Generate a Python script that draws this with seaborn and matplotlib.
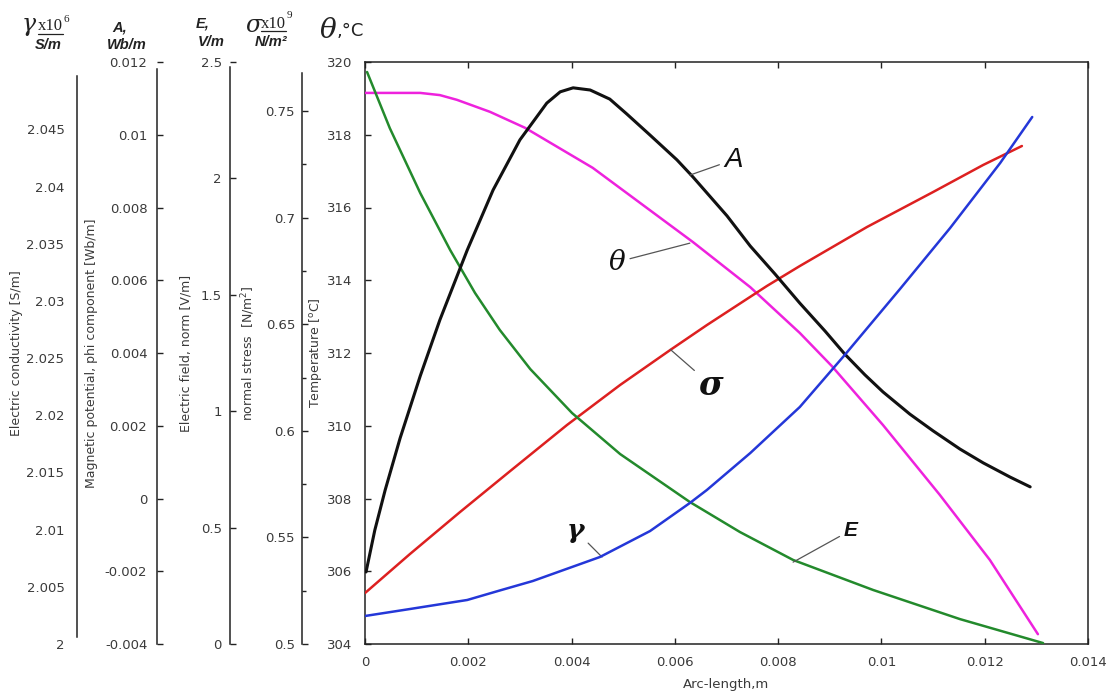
import matplotlib
matplotlib.use("Agg")
import matplotlib.pyplot as plt
import seaborn as sns
from matplotlib.lines import Line2D
from matplotlib.ticker import FixedLocator, FixedFormatter

# ---------------- data ----------------
# temperature theta [degC] vs arc length [m]
theta_x = [0.0, 0.00048, 0.00107, 0.00145, 0.00178, 0.00242, 0.00310, 0.00441,
           0.00538, 0.00635, 0.00746, 0.00842, 0.00904, 0.01003, 0.01113, 0.01210, 0.01303]
theta_T = [319.15, 319.15, 319.15, 319.09, 318.96, 318.63, 318.19, 317.09,
           316.07, 315.05, 313.81, 312.55, 311.64, 310.02, 308.10, 306.31, 304.27]

# magnetic potential A [Wb/m]
A_x = [0.00002, 0.00019, 0.00039, 0.00068, 0.00107, 0.00145, 0.00198, 0.00248,
       0.00300, 0.00352, 0.00378, 0.00403, 0.00436, 0.00474, 0.00507, 0.00552,
       0.00604, 0.00635, 0.00701, 0.00746, 0.00794, 0.00842, 0.00891, 0.00929,
       0.00968, 0.01003, 0.01055, 0.01100, 0.01152, 0.01197, 0.01249, 0.01288]
A_v = [-0.00202, -0.00087, 0.00023, 0.00166, 0.00337, 0.00491, 0.00683, 0.00848,
       0.00986, 0.01087, 0.01118, 0.01129, 0.01123, 0.01098, 0.01057, 0.00999,
       0.00931, 0.00884, 0.00777, 0.00694, 0.00617, 0.00537, 0.00460, 0.00397,
       0.00340, 0.00293, 0.00232, 0.00186, 0.00136, 0.00098, 0.00059, 0.00032]

# electric field E [V/m]
E_x = [0.00004, 0.00048, 0.00107, 0.00165, 0.00213, 0.00261, 0.00320, 0.00401,
       0.00494, 0.00629, 0.00726, 0.00829, 0.00984, 0.01152, 0.01313]
E_v = [2.457, 2.216, 1.937, 1.692, 1.508, 1.349, 1.181, 0.992,
       0.816, 0.610, 0.481, 0.361, 0.232, 0.107, 0.004]

# normal stress sigma [x1e9 N/m^2]
s_x = [0.0, 0.00087, 0.00184, 0.00281, 0.00391, 0.00494, 0.00591, 0.00662,
       0.00778, 0.00842, 0.00972, 0.01100, 0.01197, 0.01272]
s_v = [0.5239, 0.5422, 0.5619, 0.5811, 0.6027, 0.6215, 0.6379, 0.6496,
       0.6679, 0.6773, 0.6956, 0.7120, 0.7247, 0.7336]

# electric conductivity gamma [x1e6 S/m]
g_x = [0.0, 0.00087, 0.00198, 0.00261, 0.00325, 0.00455, 0.00552, 0.00629,
       0.00662, 0.00746, 0.00842, 0.00929, 0.01036, 0.01133, 0.01230, 0.01292]
g_v = [2.00245, 2.00306, 2.00385, 2.00468, 2.00551, 2.00761, 2.00988, 2.01233,
       2.01347, 2.01670, 2.02073, 2.02528, 2.03105, 2.03638, 2.04207, 2.04609]

# tick values and labels
x_ticks = [0, 0.002, 0.004, 0.006, 0.008, 0.010, 0.012, 0.014]
x_labels = ["0", "0.002", "0.004", "0.006", "0.008", "0.01", "0.012", "0.014"]
T_ticks = [304, 306, 308, 310, 312, 314, 316, 318, 320]
s_ticks = [0.5, 0.55, 0.6, 0.65, 0.7, 0.75]
s_labels = ["0.5", "0.55", "0.6", "0.65", "0.7", "0.75"]
s_minor = [0.525, 0.575, 0.625, 0.675, 0.725]
E_ticks = [0, 0.5, 1, 1.5, 2, 2.5]
E_labels = ["0", "0.5", "1", "1.5", "2", "2.5"]
A_ticks = [-0.004, -0.002, 0, 0.002, 0.004, 0.006, 0.008, 0.010, 0.012]
A_labels = ["-0.004", "-0.002", "0", "0.002", "0.004", "0.006", "0.008", "0.01", "0.012"]
g_ticks = [2.0, 2.005, 2.01, 2.015, 2.02, 2.025, 2.03, 2.035, 2.04, 2.045]
g_labels = ["2", "2.005", "2.01", "2.015", "2.02", "2.025", "2.03", "2.035", "2.04", "2.045"]

# ---------------- style ----------------
sns.set_style("ticks")
plt.rcParams["font.family"] = ["DejaVu Sans"]
TXT = "#3a3a3a"
TICK_FS = 9.5
LAB_FS = 9

W, H = 1112, 696
fig = plt.figure(figsize=(W / 100, H / 100), dpi=100)
fig.patch.set_facecolor("white")


def fx(px):
    return px / W


def fy(py):
    return 1 - py / H


ax_left, ax_right, ax_top, ax_bot = 365, 1088, 62, 644
ax = fig.add_axes([fx(ax_left), fy(ax_bot), (ax_right - ax_left) / W, (ax_bot - ax_top) / H])
ax.set_facecolor("white")


def px_to_axfrac(px):
    return (px - ax_left) / (ax_right - ax_left)


# main axis (temperature)
ax.set_xlim(0, 0.014)
ax.set_ylim(304, 320)
ax.xaxis.set_major_locator(FixedLocator(x_ticks))
ax.xaxis.set_major_formatter(FixedFormatter(x_labels))
ax.set_yticks(T_ticks)
ax.set_yticklabels([str(t) for t in T_ticks])
for sp in ax.spines.values():
    sp.set_visible(True)
    sp.set_color("#222222")
    sp.set_linewidth(1.1)
ax.tick_params(axis="both", direction="in", length=4, width=1, color="#222222",
               labelsize=TICK_FS, labelcolor=TXT, top=True, right=True)
ax.tick_params(axis="y", pad=9)
ax.tick_params(axis="x", pad=9)
ax.set_xlabel("Arc-length,m", fontsize=LAB_FS + 0.5, color=TXT, labelpad=6)
ax.set_ylabel("Temperature [$^\\mathrm{o}$C]", fontsize=LAB_FS, color=TXT, va="center")
ax.yaxis.set_label_coords(px_to_axfrac(316), 0.5)

sns.lineplot(x=theta_x, y=theta_T, ax=ax, color="#ee22dd", linewidth=1.8, zorder=4)


def make_twin(spine_px, label, label_px, ylim, ticks, labels, pad, ticklen=4, bounds=None):
    t = ax.twinx()
    t.set_ylim(*ylim)
    for name in ("right", "top", "bottom"):
        t.spines[name].set_visible(False)
    sp = t.spines["left"]
    sp.set_visible(True)
    sp.set_position(("axes", px_to_axfrac(spine_px)))
    sp.set_color("#222222")
    sp.set_linewidth(1.1)
    if bounds is not None:
        sp.set_bounds(*bounds)
    t.yaxis.set_ticks_position("left")
    t.yaxis.set_label_position("left")
    t.yaxis.set_major_locator(FixedLocator(ticks))
    t.yaxis.set_major_formatter(FixedFormatter(labels))
    t.tick_params(axis="y", direction="in", length=ticklen, width=1, color="#222222",
                  labelsize=TICK_FS, labelcolor=TXT, pad=pad)
    t.set_ylabel(label, fontsize=LAB_FS, color=TXT, va="center")
    t.yaxis.set_label_coords(px_to_axfrac(label_px), 0.5)
    return t


ax_s = make_twin(302, "normal stress  [N/m$^2$]", 248, (0.5, 0.773), s_ticks, s_labels, 5,
                 bounds=(0.5, 0.768))
ax_s.yaxis.set_minor_locator(FixedLocator(s_minor))
ax_s.tick_params(axis="y", which="minor", direction="in", length=3, width=1, color="#222222")

ax_E = make_twin(230, "Electric field, norm [V/m]", 186, (0, 2.5), E_ticks, E_labels, 6,
                 bounds=(0, 2.48))
ax_A = make_twin(157, "Magnetic potential, phi component [Wb/m]", 92, (-0.004, 0.012),
                 A_ticks, A_labels, 7, bounds=(-0.004, 0.0118))
ax_g = make_twin(77, "Electric conductivity [S/m]", 17, (2.0, 2.0509), g_ticks, g_labels, 9,
                 ticklen=0, bounds=(2.0006, 2.0497))

sns.lineplot(x=g_x, y=g_v, ax=ax_g, color="#2437d8", linewidth=1.8)
sns.lineplot(x=s_x, y=s_v, ax=ax_s, color="#dd2020", linewidth=1.8)
sns.lineplot(x=E_x, y=E_v, ax=ax_E, color="#238a2c", linewidth=1.8)
sns.lineplot(x=A_x, y=A_v, ax=ax_A, color="#111111", linewidth=2.2)
for t in (ax_g, ax_s, ax_E, ax_A):
    t.set_xlim(0, 0.014)

# ---------------- curve annotations (placed in temperature-axis coordinates) ----------------
lead = dict(arrowstyle="-", color="#555555", lw=0.9, shrinkA=1, shrinkB=0)
tr = ax.transData


def ann_top(text, xy, xytext, **kw):
    return ax_A.annotate(text, xy=xy, xycoords=tr, xytext=xytext, textcoords=tr,
                         ha="center", va="center", arrowprops=lead, **kw)


ann_top("A", (0.00629, 316.89), (0.00713, 317.31), fontsize=20, family="Liberation Sans",
        style="italic", color="#111111")
ann_top("θ", (0.00629, 315.02), (0.00488, 314.50), fontsize=20, family="DejaVu Serif",
        style="italic", color="#111111")
ann_top("σ", (0.00591, 312.10), (0.00670, 311.12), fontsize=24, family="DejaVu Serif",
        style="italic", weight="bold", color="#111111")
ann_top("γ", (0.00459, 306.39), (0.00407, 307.13), fontsize=19, family="DejaVu Serif",
        style="italic", weight="bold", color="#111111")
ann_top("E", (0.00829, 306.25), (0.00941, 307.13), fontsize=15, family="Liberation Sans",
        style="italic", weight="bold", color="#111111")

# ---------------- column headers ----------------
hdr = dict(family="Liberation Sans", style="italic", weight="bold", fontsize=10.5,
           color="#222222", ha="center", va="center")
greek = dict(family="DejaVu Serif", style="italic", color="#222222", ha="center", va="center")
ser = dict(family="Liberation Serif", color="#222222", va="center")

fig.text(fx(29), fy(25), "γ", fontsize=17, **greek)
fig.text(fx(38), fy(26), "x10", fontsize=12, ha="left", **ser)
fig.text(fx(64), fy(19), "6", fontsize=8, ha="left", **ser)
fig.add_artist(Line2D([fx(38), fx(63)], [fy(34), fy(34)], color="#222222", lw=0.9))
fig.text(fx(48), fy(45), "S/m", **hdr)

fig.text(fx(120), fy(27), "A,", **hdr)
fig.text(fx(127), fy(45), "Wb/m", **hdr)

fig.text(fx(203), fy(23), "E,", **hdr)
fig.text(fx(211), fy(42), "V/m", **hdr)

fig.text(fx(253), fy(25), "σ", fontsize=17, **greek)
fig.text(fx(261), fy(24), "x10", fontsize=12, ha="left", **ser)
fig.text(fx(287), fy(16), "9", fontsize=8, ha="left", **ser)
fig.add_artist(Line2D([fx(261), fx(286)], [fy(31), fy(31)], color="#222222", lw=0.9))
fig.text(fx(271), fy(42), "N/m²", **hdr)

fig.text(fx(328), fy(31), "θ", fontsize=20, **greek)
fig.text(fx(337), fy(31), ",°C", fontsize=13, family="DejaVu Sans", color="#222222",
         ha="left", va="center")

fig.savefig("out.png", dpi=100, facecolor="white")
